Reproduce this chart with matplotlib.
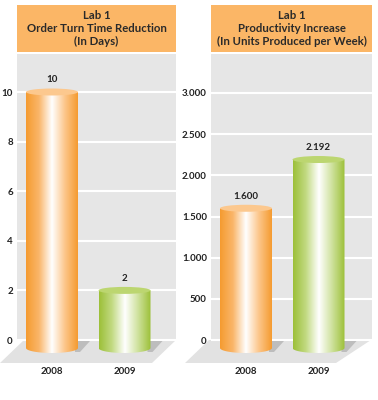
import numpy as np
import matplotlib.pyplot as plt
from matplotlib.patches import Rectangle, Ellipse, Polygon, PathPatch
from matplotlib.path import Path
from matplotlib.colors import LinearSegmentedColormap

# data
years = ["2008", "2009"]
days = [10, 2]
days_labels = ["10", "2"]
days_ticks = [0, 2, 4, 6, 8, 10]
units = [1600, 2192]
units_labels = ["1.600", "2.192"]
units_ticks = [0, 500, 1000, 1500, 2000, 2500, 3000]
units_tick_labels = ["0", "500", "1.000", "1.500", "2.000", "2.500", "3.000"]
titles = ["Lab 1\nOrder Turn Time Reduction\n(In Days)",
          "Lab 1\nProductivity Increase\n(In Units Produced per Week)"]

W, H = 378, 400
plt.rcParams['font.family'] = ['Lato', 'DejaVu Sans']
fig = plt.figure(figsize=(W / 100, H / 100), dpi=100)


def box(x0, y0, x1, y1):
    return [x0 / W, 1 - y1 / H, (x1 - x0) / W, (y1 - y0) / H]


# background layer in pixel units (headers + floors)
bg = fig.add_axes([0, 0, 1, 1], zorder=0)
bg.set_xlim(0, W)
bg.set_ylim(H, 0)
bg.axis('off')

bg.add_patch(Polygon([(24, 340), (176, 340), (152, 363), (0, 363)], color='#e2e2e2', lw=0))
bg.add_patch(Polygon([(209, 340), (371, 340), (336, 363), (185, 363)], color='#e2e2e2', lw=0))

header_col = '#fbb666'
for (x0, x1), t in zip([(17, 176), (211, 372)], titles):
    bg.add_patch(Rectangle((x0, 5), x1 - x0, 47, color=header_col, lw=0))
    bg.text((x0 + x1) / 2, 28.5, t, ha='center', va='center', fontsize=8.2,
            fontweight='bold', color='#2a2a2a', linespacing=1.2)

orange = LinearSegmentedColormap.from_list('o', ['#f59b30', '#fab66a', '#ffffff', '#fcc68a', '#f59b30'])
green = LinearSegmentedColormap.from_list('g', ['#9cc038', '#c2da82', '#ffffff', '#cfe29e', '#9cc038'])
cmaps = [orange, green]
caps = ['#fcc88e', '#bcd670']

PX_X = 72.5  # pixels per bar step
FLOOR = 23   # pixels from zero line to floor bottom


def draw_panel(rect, values, labels, ticks, ticklabels, ytop, px_y):
    ax = fig.add_axes(box(rect[0], rect[1], rect[2], rect[3] + FLOOR), zorder=1)
    ax.patch.set_visible(False)
    for s in ax.spines.values():
        s.set_visible(False)
    dx = 1 / PX_X
    dy = 1 / px_y
    xlo = -35 * dx
    xhi = 1 + (rect[2] - rect[0] - 35 - PX_X) * dx
    ylo = -FLOOR * dy
    ax.add_patch(Rectangle((xlo, 0), xhi - xlo, ytop, color='#e6e6e6', lw=0, zorder=0.1))
    ax.set_yticks(ticks, ticklabels)
    ax.set_xticks([0, 1], years)
    ax.tick_params(length=0, labelsize=7, labelcolor='#222222')
    ax.tick_params(axis='y', pad=3)
    ax.tick_params(axis='x', pad=3)
    for lab in ax.get_xticklabels() + ax.get_yticklabels():
        lab.set_fontweight('bold')
    ax.grid(axis='y', color='white', lw=1.5)
    ax.set_axisbelow(True)

    w = 52 * dx
    grad = np.linspace(0, 1, 256).reshape(1, -1)
    for i, v in enumerate(values):
        x0, x1 = i - w / 2, i + w / 2
        # shadow on floor
        ax.add_patch(Polygon([(x1 - 3 * dx, -1 * dy), (x1 + 12 * dx, -1 * dy),
                              (x1 + 2 * dx, -12 * dy), (x1 - 3 * dx, -12 * dy)],
                             color='#bdbdbd', lw=0, zorder=2))
        # cylinder body with rounded bottom
        cy, b = -8 * dy, 5 * dy
        t = np.linspace(np.pi, 2 * np.pi, 40)
        verts = list(zip(i + w / 2 * np.cos(t), cy + b * np.sin(t)))
        verts += [(x1, v), (x0, v), (x0, cy)]
        path = Path(verts + [verts[0]], [Path.MOVETO] + [Path.LINETO] * (len(verts) - 1) + [Path.CLOSEPOLY])
        clip = PathPatch(path, transform=ax.transData, fc='none', ec='none')
        ax.add_patch(clip)
        im = ax.imshow(grad, cmap=cmaps[i], extent=[x0, x1, cy - b, v], aspect='auto', zorder=3)
        im.set_clip_path(clip)
        # top cap
        ax.add_patch(Ellipse((i, v), w, 7 * dy, color=caps[i], lw=0, zorder=4, clip_on=False))
        ax.text(i, v + 12 * dy, labels[i], ha='center', va='center', fontsize=7,
                fontweight='bold', color='#222222')
    ax.set_xlim(xlo, xhi)
    ax.set_ylim(ylo, ytop)
    return ax


draw_panel((17, 54, 176, 340), days, days_labels, days_ticks, [str(t) for t in days_ticks],
           (340 - 54) / 24.8, 24.8)
draw_panel((211, 54, 372, 340), units, units_labels, units_ticks, units_tick_labels,
           (340 - 54) / (247 / 3000), 247 / 3000)

fig.savefig('out.png', dpi=100)
